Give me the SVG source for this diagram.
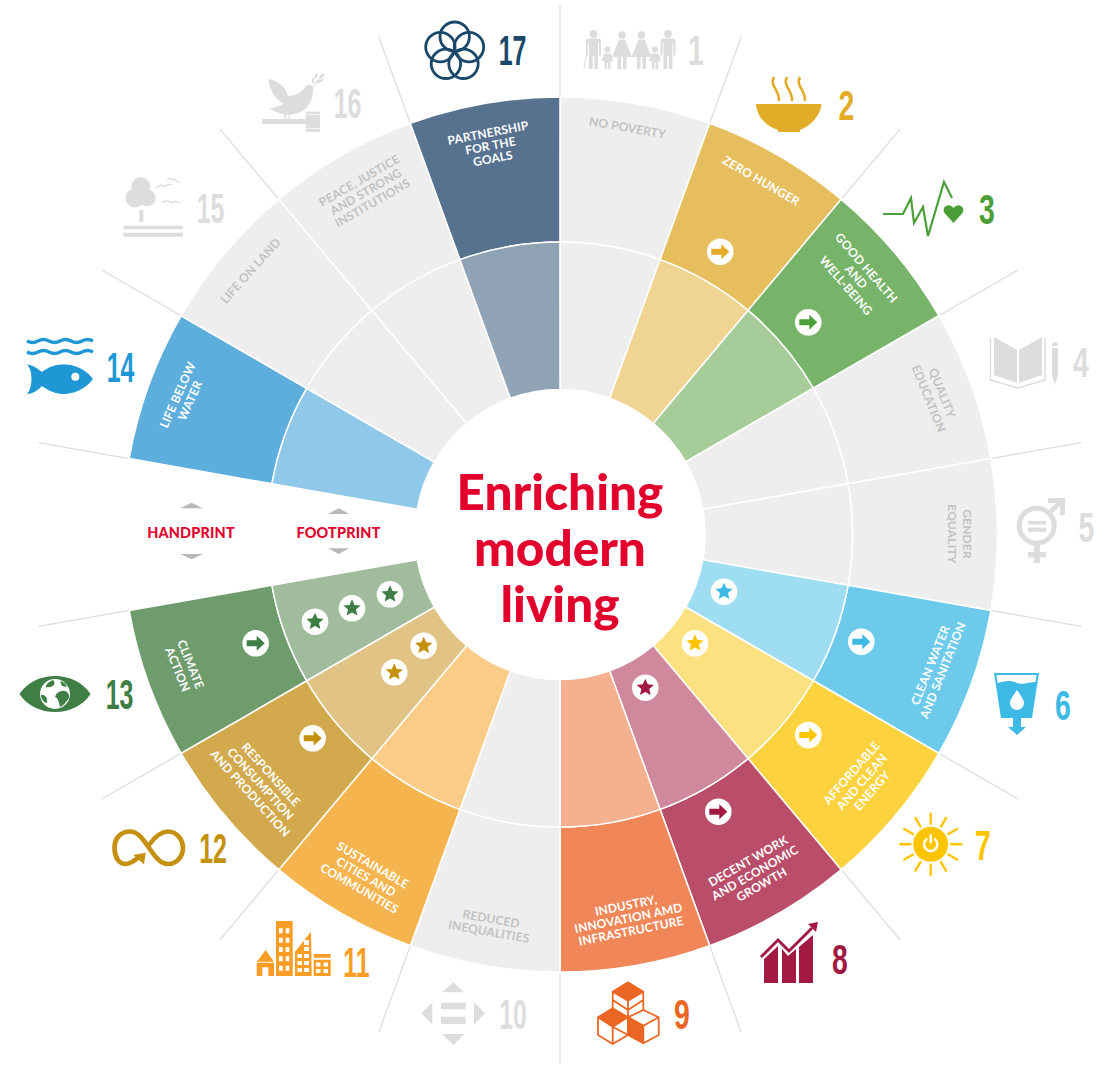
<svg xmlns="http://www.w3.org/2000/svg" width="1111" height="1066" viewBox="0 0 1111 1066">
<style>
.w{stroke:#fff;stroke-width:1.5}
.l{font-family:Lato,"Liberation Sans",sans-serif;font-weight:700;font-size:12px;text-anchor:middle;letter-spacing:.15px}
.lw{fill:#fff}
.lg{fill:#c2c2c2}
.n{font-family:"Liberation Sans",Arial,sans-serif;font-weight:700;font-size:43px;text-anchor:middle}
.sp{stroke:#ddd;stroke-width:1.3;fill:none}
.t{font-family:Lato,"Liberation Sans",sans-serif;font-weight:900;font-size:49.5px;fill:#e2012d;text-anchor:middle}
.h{font-family:Lato,"Liberation Sans",sans-serif;font-weight:900;font-size:14.4px;letter-spacing:.2px;fill:#e2012d;text-anchor:middle}
.tri{fill:#b8b8b8}
.ic{fill:#ddd}
</style>
<defs>
<path id="o" class="w" d="M560 242V97A437.5 437.5 0 0 1 709.6 123.4L660 259.6A292.5 292.5 0 0 0 560 242Z"/>
<path id="i" class="w" d="M560 389.5V242A292.5 292.5 0 0 1 660 259.6L609.6 398.2A145 145 0 0 0 560 389.5Z"/>
<line id="s" class="sp" x1="560" y1="97" x2="560" y2="5"/>
<circle id="b" r="13.3" fill="#fff"/>
<path id="a" d="M-9-3H1V-7.5L9 0 1 7.5V3H-9Z"/>
<polygon id="st" points="0,-9 2.5,-3.4 8.6,-2.8 4,1.3 5.3,7.3 0,4.2 -5.3,7.3 -4,1.3 -8.6,-2.8 -2.5,-3.4"/>
<g id="man"><circle cx="0" cy="4" r="3.9"/><path d="M-5 8.5H5Q7.5 8.5 7.5 11V25.5H5.5V13H4.5V39H.8V26H-.8V39H-4.5V13H-5.5V25.5H-7.5V11Q-7.5 8.5-5 8.5Z"/></g>
<g id="wom"><circle cx="0" cy="5" r="3.8"/><path d="M-3 9.5H3L10 27H4.5V39H1V27H-1V39H-4.5V27H-10Z"/></g>
<g id="kid"><circle cx="0" cy="19.5" r="3"/><path d="M-3.5 23.5H3.5L6 31H3V39H.6V33H-.6V39H-3V31H-6Z"/></g>
<line id="ray" x1="0" y1="-20.5" x2="0" y2="-30.5" stroke="#fdc400" stroke-width="2.4" stroke-linecap="round"/>
</defs>
<rect width="1111" height="1066" fill="#fff"/>

<g id="connectors">
<use href="#s"/><use href="#s" transform="rotate(20 560 534.5)"/><use href="#s" transform="rotate(40 560 534.5)"/><use href="#s" transform="rotate(60 560 534.5)"/><use href="#s" transform="rotate(80 560 534.5)"/><use href="#s" transform="rotate(100 560 534.5)"/><use href="#s" transform="rotate(120 560 534.5)"/><use href="#s" transform="rotate(140 560 534.5)"/><use href="#s" transform="rotate(160 560 534.5)"/><use href="#s" transform="rotate(180 560 534.5)"/><use href="#s" transform="rotate(200 560 534.5)"/><use href="#s" transform="rotate(220 560 534.5)"/><use href="#s" transform="rotate(240 560 534.5)"/><use href="#s" transform="rotate(260 560 534.5)"/><use href="#s" transform="rotate(280 560 534.5)"/><use href="#s" transform="rotate(300 560 534.5)"/><use href="#s" transform="rotate(320 560 534.5)"/><use href="#s" transform="rotate(340 560 534.5)"/>
</g>

<g id="sdg1">
<use href="#o" fill="#eee"/><use href="#i" fill="#eee"/>
<text class="l lg" transform="translate(627.5 128) rotate(10)" y="4">NO POVERTY</text>
<g class="ic"><use href="#man" x="593.5" y="30"/><use href="#kid" x="607.5" y="30"/><use href="#wom" x="622" y="30"/><use href="#wom" x="641.5" y="30"/><use href="#kid" x="655" y="30"/><use href="#man" x="668" y="30"/></g>
<line x1="586" y1="56" x2="584" y2="69" stroke="#ddd" stroke-width="1"/>
<text class="n" fill="#ddd" transform="translate(696 65) scale(.66 1)">1</text>
</g>

<g id="sdg2">
<use href="#o" transform="rotate(20 560 534.5)" fill="#e6be5e"/><use href="#i" transform="rotate(20 560 534.5)" fill="#f0d492"/>
<text class="l lw" transform="translate(761 181) rotate(30)" y="4">ZERO HUNGER</text>
<use href="#b" x="720.3" y="251.7"/><use href="#a" x="720.3" y="251.7" fill="#e2ac28"/>
<path d="M756 104H821.5C820 118 808 127 800 130V132H778V130C768 127 757 118 756 104Z" fill="#e2ac28"/>
<path d="M774 77C769 86 780 90 779 101M787 77C782 86 793 90 792 101M800 77C795 86 806 90 805 101" fill="none" stroke="#e2ac28" stroke-width="2.6"/>
<text class="n" fill="#e2ac28" transform="translate(846.5 120) scale(.66 1)">2</text>
</g>

<g id="sdg3">
<use href="#o" transform="rotate(40 560 534.5)" fill="#77b469"/><use href="#i" transform="rotate(40 560 534.5)" fill="#a5cc99"/>
<text class="l lw" transform="translate(856 277) rotate(49)"><tspan x="0" y="-9.5">GOOD HEALTH</tspan><tspan x="0" y="4">AND</tspan><tspan x="0" y="17.5">WELL-BEING</tspan></text>
<use href="#b" x="808.3" y="322.3"/><use href="#a" x="808.3" y="322.3" fill="#4c9f38"/>
<polyline points="883,214 903,214 911,198 914,223 923,207 928,236 944,182 952,198" fill="none" stroke="#4c9f38" stroke-width="2.2"/>
<path d="M953.5 223L944.5 213C941 207 949 202 953.5 208C958 202 966 207 962.5 213Z" fill="#4c9f38"/>
<text class="n" fill="#4c9f38" transform="translate(987 224) scale(.66 1)">3</text>
</g>

<g id="sdg4">
<use href="#o" transform="rotate(60 560 534.5)" fill="#eee"/><use href="#i" transform="rotate(60 560 534.5)" fill="#eee"/>
<text class="l lg" transform="translate(935 396) rotate(68)"><tspan x="0" y="-3.5">QUALITY</tspan><tspan x="0" y="11">EDUCATION</tspan></text>
<g class="ic"><polygon points="994,337 1017,350 1017,383 994,375"/><polygon points="1019,350 1042,337 1042,375 1019,383"/><path d="M1052 345Q1052 342 1055 342Q1058 342 1058 345V346H1052ZM1052 348H1058V375L1055 385 1052 375Z"/></g>
<polyline points="990.5,338 990.5,380 1018,388 1045,380 1045,338" fill="none" stroke="#ddd" stroke-width="1.5"/>
<text class="n" fill="#ddd" transform="translate(1081 377) scale(.66 1)">4</text>
</g>

<g id="sdg5">
<use href="#o" transform="rotate(80 560 534.5)" fill="#eee"/><use href="#i" transform="rotate(80 560 534.5)" fill="#eee"/>
<text class="l lg" transform="translate(959 534) rotate(90)"><tspan x="0" y="-3.5">GENDER</tspan><tspan x="0" y="11">EQUALITY</tspan></text>
<circle cx="1036.7" cy="525.7" r="17.5" fill="none" stroke="#ddd" stroke-width="5"/>
<g class="ic"><rect x="1028" y="521" width="18" height="3.6"/><rect x="1028" y="527.6" width="18" height="4.2"/><rect x="1034" y="545" width="6" height="18"/><rect x="1028" y="552" width="18" height="5.5"/></g>
<path d="M1049 513L1062 501M1048 500.5H1062.5V515" fill="none" stroke="#ddd" stroke-width="5"/>
<text class="n" fill="#ddd" transform="translate(1086.5 542) scale(.66 1)">5</text>
</g>

<g id="sdg6">
<use href="#o" transform="rotate(100 560 534.5)" fill="#6dcaeb"/><use href="#i" transform="rotate(100 560 534.5)" fill="#9fddf2"/>
<text class="l lw" transform="translate(937 668) rotate(-68)"><tspan x="0" y="-3">CLEAN WATER</tspan><tspan x="0" y="10.5">AND SANITATION</tspan></text>
<use href="#b" x="861.3" y="641.7"/><use href="#a" x="861.3" y="641.7" fill="#3db9e5"/>
<use href="#b" x="724" y="591.7"/><use href="#st" x="724" y="591.7" fill="#3db9e5"/>
<path d="M994 673H1039L1032 718H1001ZM996.5 675L997.5 683C1005 681 1011 680 1017 683C1023 685 1030 682 1035.5 682L1036.5 675Z" fill="#3db9e5" fill-rule="evenodd"/>
<path d="M1013 718H1021V727H1026L1017 735 1008 727H1013Z" fill="#3db9e5"/>
<path d="M1017 690C1014 695 1010 699 1010 703A7 7 0 0 0 1024 703C1024 699 1020 695 1017 690Z" fill="#fff"/>
<text class="n" fill="#3db9e5" transform="translate(1063 720) scale(.66 1)">6</text>
</g>

<g id="sdg7">
<use href="#o" transform="rotate(120 560 534.5)" fill="#fcd33f"/><use href="#i" transform="rotate(120 560 534.5)" fill="#fce180"/>
<text class="l lw" transform="translate(862 782) rotate(-49)"><tspan x="0" y="-9.5">AFFORDABLE</tspan><tspan x="0" y="4">AND CLEAN</tspan><tspan x="0" y="17.5">ENERGY</tspan></text>
<use href="#b" x="808.3" y="735"/><use href="#a" x="808.3" y="735" fill="#fdc400"/>
<use href="#b" x="695" y="643.3"/><use href="#st" x="695" y="643.3" fill="#fdc400"/>
<g transform="translate(930.7 844.3)"><circle r="17.5" fill="#fdc400"/><path d="M-3.5-5.5A6.6 6.6 0 1 0 3.5-5.5" fill="none" stroke="#fff" stroke-width="2.5"/><line y1="-10" y2="-1" stroke="#fff" stroke-width="2.5"/>
<use href="#ray"/><use href="#ray" transform="rotate(30)"/><use href="#ray" transform="rotate(60)"/><use href="#ray" transform="rotate(90)"/><use href="#ray" transform="rotate(120)"/><use href="#ray" transform="rotate(150)"/><use href="#ray" transform="rotate(180)"/><use href="#ray" transform="rotate(210)"/><use href="#ray" transform="rotate(240)"/><use href="#ray" transform="rotate(270)"/><use href="#ray" transform="rotate(300)"/><use href="#ray" transform="rotate(330)"/></g>
<text class="n" fill="#fdc400" transform="translate(983 860) scale(.66 1)">7</text>
</g>

<g id="sdg8">
<use href="#o" transform="rotate(140 560 534.5)" fill="#ba4e6a"/><use href="#i" transform="rotate(140 560 534.5)" fill="#d0889c"/>
<text class="l lw" transform="translate(755 873) rotate(-30)"><tspan x="0" y="-9.5">DECENT WORK</tspan><tspan x="0" y="4">AND ECONOMIC</tspan><tspan x="0" y="17.5">GROWTH</tspan></text>
<use href="#b" x="718.3" y="811.7"/><use href="#a" x="718.3" y="811.7" fill="#a21942"/>
<use href="#b" x="645.3" y="687.7"/><use href="#st" x="645.3" y="687.7" fill="#a21942"/>
<path d="M764 959L778 946V983H764ZM782 949L788 956 796 949V983H782ZM799 947L813 935V983H799ZM808 924L818 922 816 932Z" fill="#a21942"/>
<polyline points="761,957 778,940 789,951 812,928" fill="none" stroke="#a21942" stroke-width="3"/>
<text class="n" fill="#a21942" transform="translate(840 974) scale(.66 1)">8</text>
</g>

<g id="sdg9">
<use href="#o" transform="rotate(160 560 534.5)" fill="#f18758"/><use href="#i" transform="rotate(160 560 534.5)" fill="#f5b08f"/>
<text class="l lw" transform="translate(628.5 918.5) rotate(-11.5)"><tspan x="0" y="-9">INDUSTRY,</tspan><tspan x="0" y="4">INNOVATION AMD</tspan><tspan x="0" y="17">INFRASTRUCTURE</tspan></text>
<g stroke="#ec6623" stroke-width="1.8" stroke-linejoin="round" fill="none">
<path d="M628 982.3L643.3 991.7 628 1000.7 612.7 991.7Z" fill="#ec6623"/>
<path d="M612.7 991.7V1008M643.3 991.7V1010M628 1000.7V1017M612.7 1000L628 1010 643.3 1000"/>
<path d="M612.7 1008.3L628 1017.3 612.7 1026.7 598 1017.3Z" fill="#ec6623"/>
<path d="M598 1017.3V1035L612.7 1044 628 1035V1017.3M612.7 1026.7V1044M612.7 1026.7L628 1035"/>
<path d="M628 1017.3L643.3 1025.7V1043.3L628 1035Z" fill="#ec6623"/>
<path d="M643.3 1010L658.7 1017.3 643.3 1025.7 628 1017.3ZM658.7 1017.3V1035L643.3 1043.3"/>
</g>
<text class="n" fill="#ec6623" transform="translate(682 1029) scale(.66 1)">9</text>
</g>

<g id="sdg10">
<use href="#o" transform="rotate(180 560 534.5)" fill="#eee"/><use href="#i" transform="rotate(180 560 534.5)" fill="#eee"/>
<text class="l lg" transform="translate(490 925.5) rotate(10)"><tspan x="0" y="-2.5">REDUCED</tspan><tspan x="0" y="10.5">INEQUALITIES</tspan></text>
<path class="ic" d="M453.3 982.3L464.3 992.3H442.3ZM442.3 1034H464.3L453.3 1045ZM432.3 1002.3V1024.3L421.3 1013.3ZM474 1002.3V1024.3L485 1013.3ZM441 1002.7H465.7V1009.3H441ZM441 1016.7H465.7V1024H441Z"/>
<text class="n" fill="#ddd" transform="translate(513 1029) scale(.58 1)">10</text>
</g>

<g id="sdg11">
<use href="#o" transform="rotate(200 560 534.5)" fill="#f6b44e"/><use href="#i" transform="rotate(200 560 534.5)" fill="#facc88"/>
<text class="l lw" transform="translate(366 877) rotate(30)"><tspan x="0" y="-9.5">SUSTAINABLE</tspan><tspan x="0" y="4">CITIES AND</tspan><tspan x="0" y="17.5">COMMUNITIES</tspan></text>
<g fill="#f99d26"><path d="M256.7 961.7L265.7 950 274 961.7ZM256.7 962.7H274V976H268.3V967.3H262.3V976H256.7Z"/>
<path fill-rule="evenodd" d="M276 921H292.7V976H276ZM279 928.3V933.3H282.7V928.3ZM285.7 928.3V933.3H289.3V928.3ZM279 937.7V942.7H282.7V937.7ZM285.7 937.7V942.7H289.3V937.7ZM279 947V952H282.7V947ZM285.7 947V952H289.3V947ZM279 956.3V961.3H282.7V956.3ZM285.7 956.3V961.3H289.3V956.3ZM279 965.7V970.7H282.7V965.7ZM285.7 965.7V970.7H289.3V965.7Z"/>
<path fill-rule="evenodd" d="M295 951.7L311 931.7 311.7 976H295ZM304 940V945H309V940ZM304 947V951H309V947ZM297.5 954V958H302V954ZM304 954V958H309V954ZM297.5 961V965H302V961ZM304 961V965H309V961ZM297.5 968V972H302V968ZM304 968V972H309V968Z"/>
<path fill-rule="evenodd" d="M313.7 954H330.7V957.7H313.7ZM313.7 959.7H330.7V976H313.7ZM316 962.5V966.5H320.5V962.5ZM323.5 962.5V966.5H328V962.5ZM316 969V973H320.5V969ZM323.5 969V973H328V969Z"/></g>
<text class="n" fill="#f99d26" transform="translate(356.500 977) scale(.58 1)">11</text>
</g>

<g id="sdg12">
<use href="#o" transform="rotate(220 560 534.5)" fill="#d2a94d"/><use href="#i" transform="rotate(220 560 534.5)" fill="#e0c385"/>
<text class="l lw" transform="translate(260.3 784) rotate(48)"><tspan x="0" y="-10">RESPONSIBLE</tspan><tspan x="0" y="4">CONSUMPTION</tspan><tspan x="0" y="18">AND PRODUCTION</tspan></text>
<use href="#b" x="312.7" y="738.3"/><use href="#a" x="312.7" y="738.3" fill="#c6900f"/>
<use href="#b" x="423.7" y="645.7"/><use href="#st" x="423.7" y="645.7" fill="#c6900f"/>
<use href="#b" x="394.3" y="672.3"/><use href="#st" x="394.3" y="672.3" fill="#c6900f"/>
<path d="M139 857C133 862 129 864 126 864C118 864 114.5 856 114.5 848C114.5 839 120 831.5 130 831.5C146 831.5 152 864 168 864C177 864 183 856 183 848C183 840 177 831.5 168 831.5C160 831.5 154 838 149 845" fill="none" stroke="#c6900f" stroke-width="4.7"/>
<polygon points="133.3,855 145.7,852.7 144,864.3" fill="#c6900f"/>
<text class="n" fill="#c6900f" transform="translate(213 863) scale(.58 1)">12</text>
</g>

<g id="sdg13">
<use href="#o" transform="rotate(240 560 534.5)" fill="#6e9c6c"/><use href="#i" transform="rotate(240 560 534.5)" fill="#a0bc9c"/>
<text class="l lw" transform="translate(184 667) rotate(68)"><tspan x="0" y="-3">CLIMATE</tspan><tspan x="0" y="11">ACTION</tspan></text>
<use href="#b" x="255.7" y="643.3"/><use href="#a" x="255.7" y="643.3" fill="#3f7e44"/>
<use href="#b" x="390" y="594.3"/><use href="#st" x="390" y="594.3" fill="#3f7e44"/>
<use href="#b" x="352" y="608.3"/><use href="#st" x="352" y="608.3" fill="#3f7e44"/>
<use href="#b" x="315" y="621.7"/><use href="#st" x="315" y="621.7" fill="#3f7e44"/>
<path d="M19.5 694C35 670 75 670 90.5 694C75 718 35 718 19.5 694Z" fill="#3f7e44"/>
<circle cx="55" cy="694" r="15" fill="#fff"/>
<path d="M53 680C57 684 52 688 48 687C45 689 44 684 53 680ZM59 692C64 689 70 692 69 698C66 702 63 706 60 707C59 702 58 698 55 697C56 694 57 693 59 692ZM41 695C45 694 48 698 47 703C44 703 41 699 41 695ZM60 681C64 682 66 684 67 687L62 686Z" fill="#3f7e44"/>
<text class="n" fill="#3f7e44" transform="translate(119.5 709) scale(.58 1)">13</text>
</g>

<g id="sdg14">
<use href="#o" transform="rotate(280 560 534.5)" fill="#5daedd"/><use href="#i" transform="rotate(280 560 534.5)" fill="#8fc8e8"/>
<text class="l lw" transform="translate(184.3 398) rotate(-66)"><tspan x="0" y="-3">LIFE BELOW</tspan><tspan x="0" y="10.5">WATER</tspan></text>
<path d="M27 341Q32.500 344 38 341T49 341T60 341T71 341T82 341T93 341M27 352Q32.500 355 38 352T49 352T60 352T71 352T82 352T93 352" fill="none" stroke="#1f97d4" stroke-width="3.4"/>
<path fill-rule="evenodd" d="M27 364.5C33 365 38 369 42 372C50 365 60 364 66 364.5C78 365 88 372 93 379C88 386 78 393 66 394C58 394.5 50 392 42 386C38 390 33 394 27 394C33 388 33 370 27 364.5ZM79.3 376.7A4 4 0 1 0 71.3 376.7A4 4 0 1 0 79.3 376.7Z" fill="#1f97d4"/>
<text class="n" fill="#1f97d4" transform="translate(120.5 382) scale(.58 1)">14</text>
</g>

<g id="sdg15">
<use href="#o" transform="rotate(300 560 534.5)" fill="#eee"/><use href="#i" transform="rotate(300 560 534.5)" fill="#eee"/>
<text class="l lg" transform="translate(250.7 271) rotate(-48)" y="4">LIFE ON LAND</text>
<g class="ic"><circle cx="140.7" cy="186.7" r="9.5"/><circle cx="135" cy="198" r="9.5"/><circle cx="147" cy="198" r="8.5"/><rect x="139.3" y="210" width="4" height="11.7"/><rect x="123.3" y="225.7" width="59.4" height="3.6"/><rect x="123.3" y="232.7" width="59.4" height="4"/></g>
<path d="M156 188Q162 183 165 187Q168 183 172 185M167 180Q172 177 175 180Q177 181 180 183M162 203Q167 199 171 203Q175 200 181 203" fill="none" stroke="#ddd" stroke-width="1.3"/>
<text class="n" fill="#ddd" transform="translate(210.5 223) scale(.58 1)">15</text>
</g>

<g id="sdg16">
<use href="#o" transform="rotate(320 560 534.5)" fill="#eee"/><use href="#i" transform="rotate(320 560 534.5)" fill="#eee"/>
<text class="l lg" transform="translate(366 192) rotate(-30)"><tspan x="0" y="-9">PEACE, JUSTICE</tspan><tspan x="0" y="4">AND STRONG</tspan><tspan x="0" y="17">INSTITUTIONS</tspan></text>
<g class="ic"><path d="M268 79C280 81 286 88 288 96C295 96 302 92 306 86C310 83 314 86 313 90C313 100 308 110 298 113C288 117 278 114 269 108C276 108 282 105 283 103C275 100 270 90 268 79Z"/><rect x="284.5" y="113" width="1.5" height="7"/><rect x="288.5" y="113" width="1.5" height="7"/><rect x="262" y="119" width="45" height="5" rx="1.5"/><rect x="305.7" y="115" width="14.3" height="13.3"/><rect x="305.7" y="111.7" width="14.3" height="2.6"/><rect x="305.7" y="129" width="14.3" height="3"/>
<ellipse cx="316" cy="76" rx="1.3" ry="3" transform="rotate(20 316 76)"/><ellipse cx="322" cy="76" rx="1.3" ry="3.5" transform="rotate(50 322 76)"/><ellipse cx="320" cy="81" rx="1.3" ry="3.5" transform="rotate(60 320 81)"/><ellipse cx="313" cy="81" rx="1.3" ry="3"/></g>
<line x1="311" y1="90" x2="322" y2="74" stroke="#ddd" stroke-width="1"/>
<text class="n" fill="#ddd" transform="translate(347.5 118) scale(.58 1)">16</text>
</g>

<g id="sdg17">
<use href="#o" transform="rotate(340 560 534.5)" fill="#56728e"/><use href="#i" transform="rotate(340 560 534.5)" fill="#8fa3b5"/>
<text class="l lw" transform="translate(490.5 146) rotate(-11)"><tspan x="0" y="-9">PARTNERSHIP</tspan><tspan x="0" y="4">FOR THE</tspan><tspan x="0" y="17">GOALS</tspan></text>
<g fill="none" stroke="#19486a" stroke-width="2.8"><circle cx="454.7" cy="36.7" r="14.7"/><circle cx="469" cy="47.1" r="14.7"/><circle cx="463.5" cy="63.8" r="14.7"/><circle cx="445.9" cy="63.8" r="14.7"/><circle cx="440.4" cy="47.1" r="14.7"/></g>
<text class="n" fill="#19486a" transform="translate(512.5 65) scale(.58 1)">17</text>
</g>

<g id="centre">
<circle cx="560" cy="534.5" r="144" fill="#fff"/>
<text class="t" x="560" y="510">Enriching</text>
<text class="t" x="560" y="566">modern</text>
<text class="t" x="560" y="622">living</text>
</g>

<g id="handprint">
<polygon class="tri" points="180,508.3 191.7,502.7 202.7,508.3"/>
<text class="h" x="191" y="537.5">HANDPRINT</text>
<polygon class="tri" points="180,554 203,554 191.7,559.3"/>
</g>
<g id="footprint">
<polygon class="tri" points="328,514 338.7,508.3 349.3,514"/>
<text class="h" x="338.5" y="537.5">FOOTPRINT</text>
<polygon class="tri" points="328,548.3 349.3,548.3 338.7,554"/>
</g>
</svg>
